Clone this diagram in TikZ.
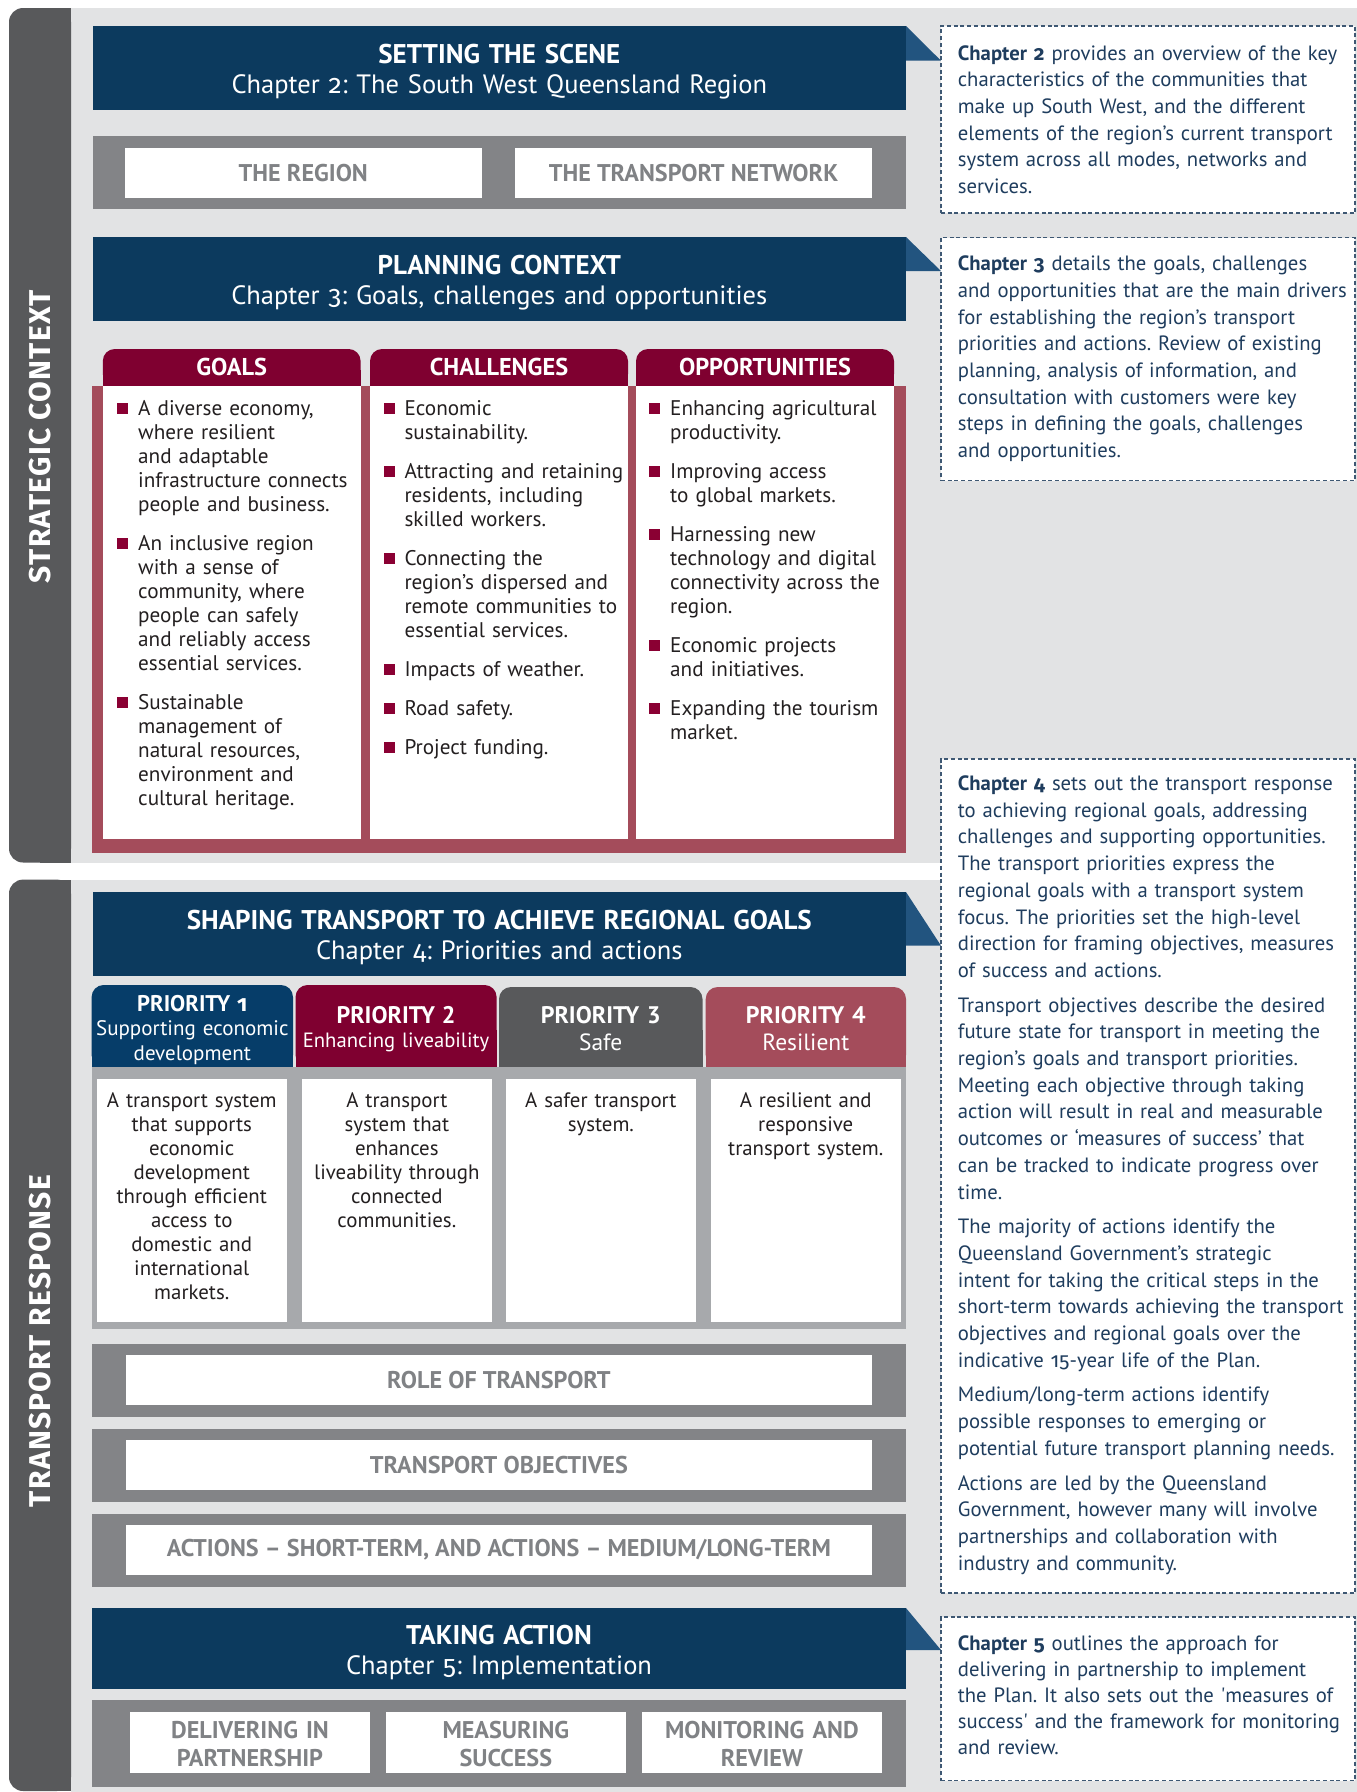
\documentclass[tikz,border=0pt]{standalone}
\usepackage{fontspec}
\setmainfont{PT Sans}
\newfontfamily\osf{Fira Sans}[Numbers=OldStyle]
\newfontfamily\sidefont{Fira Sans}[LetterSpace=4]
\usetikzlibrary{fit}

\definecolor{lightbg}{HTML}{E2E3E4}
\definecolor{sidegrey}{HTML}{58595B}
\definecolor{navy}{HTML}{0C3A5E}
\definecolor{triblue}{HTML}{22547F}
\definecolor{bandgrey}{HTML}{838487}
\definecolor{labelgrey}{HTML}{808285}
\definecolor{crimson}{HTML}{7F0030}
\definecolor{rose}{HTML}{A44C5B}
\definecolor{bulletred}{HTML}{8A0033}
\definecolor{pblue}{HTML}{063D69}
\definecolor{pframe}{HTML}{A7A9AC}
\definecolor{dashcol}{HTML}{3E5873}
\definecolor{rtextcol}{HTML}{1F3D5E}
\definecolor{bodytext}{HTML}{231F20}

\newlength\calibl
\newcommand\calibsize[3]{\settowidth\calibl{\fontsize{10pt}{12pt}\selectfont #3}\pgfmathsetmacro#1{10*#2/\calibl}}
\newcommand\fsz[2]{\fontsize{#1pt}{#2pt}\selectfont}
\newcommand\bitem[1]{\noindent\llap{\makebox[21pt][l]{\textcolor{bulletred}{\raisebox{1.5pt}{\rule{11pt}{11pt}}}}}#1}
\newcommand\itemgap{\par\vspace{15pt}}

\begin{document}
\frenchspacing
% ---------- calibrated font sizes ----------
\calibsize\rsz{344}{characteristics of the communities that}%
\calibsize\csz{208}{infrastructure connects}%
\calibsize\bsz{167}{A transport system}%
\calibsize\hbsz{615}{\bfseries SHAPING TRANSPORT TO ACHIEVE REGIONAL GOALS}%
\calibsize\hrsz{525}{Chapter {\osf 2}: The South West Queensland Region}%
\calibsize\lsz{664}{\bfseries ACTIONS -- SHORT-TERM, AND ACTIONS -- MEDIUM/LONG-TERM}%
\calibsize\tsz{172}{\bfseries OPPORTUNITIES}%
\calibsize\poneT{109}{\bfseries PRIORITY {\osf 1}}%
\calibsize\ptwoT{118}{\bfseries PRIORITY 2}%
\calibsize\poneS{191}{Supporting economic}%
\calibsize\ptwoS{185}{Enhancing liveability}%
\calibsize\pthreeS{86.8}{Resilient}%
\calibsize\ssz{293}{\sidefont\bfseries STRATEGIC CONTEXT}%
\begin{tikzpicture}[x=1pt,y=-1pt,
  bx/.style={inner sep=0pt, outer sep=0pt},
  dashbox/.style={bx, fill=white, draw=dashcol, line width=1.3pt, dash pattern=on 4pt off 2.7pt},
  hdrbox/.style={bx, fill=navy},
  hdrtext/.style={inner sep=0pt, anchor=base, text width=800pt, align=center, text=white, font=\fsz{\hrsz}{30}},
  bandbox/.style={bx, fill=bandgrey},
  whitebox/.style={bx, fill=white},
  lbl/.style={inner sep=0pt, text=labelgrey, font=\bfseries\fsz{\lsz}{28}, align=center},
  rtext/.style={inner sep=0pt, anchor=base west, text width=400pt, align=left, text=rtextcol, font=\fsz{\rsz}{26.7}},
  coltext/.style={inner sep=0pt, anchor=base west, text width=250pt, align=left, text=bodytext, font=\fsz{\csz}{24}},
  boxtext/.style={inner sep=0pt, anchor=base, text width=185pt, align=center, text=bodytext, font=\fsz{\bsz}{24}},
  tabtext/.style={inner sep=0pt, anchor=base, text width=200pt, align=center, text=white, font=\fsz{\ptwoS}{24.5}},
  sidetext/.style={inner sep=0pt, rotate=90, text=white, font=\sidefont\bfseries\fsz{\ssz}{\ssz}}
]
% ---------- background ----------
\fill[white] (0,0) rectangle (1357,1792);
\useasboundingbox (0,0) rectangle (1357,1792);
\fill[lightbg] (71,8) rectangle (1357,862.5);
\fill[lightbg] (71,879.6) rectangle (1357,1792);

% ---------- sidebars ----------
\node[fit={(9,8)(71,862.5)}, bx, fill=sidegrey, rounded corners=14pt] (sb1) {};
\fill[sidegrey] (40,8) rectangle (71,862.5);
\node[fit={(9,879.6)(71,1791)}, bx, fill=sidegrey, rounded corners=14pt] (sb2) {};
\fill[sidegrey] (40,879.6) rectangle (71,1791);
\node[sidetext] (sbt1) at (40.5,436.5) {STRATEGIC CONTEXT};
\node[sidetext] (sbt2) at (40.5,1341) {TRANSPORT RESPONSE};

% ---------- right column ----------
\node[fit={(941,26)(1355,213)}, dashbox] (c2) {};
\node[fit={(941,237.5)(1355,480.7)}, dashbox] (c3) {};
\node[fit={(941,759)(1355,1593)}, dashbox] (c4) {};
\node[fit={(941,1617)(1355,1780.7)}, dashbox] (c5) {};

\node[rtext] (c2t) at (957.7,60) {\textbf{Chapter {\osf 2}} provides an overview of the key\\
characteristics of the communities that\\
make up South West, and the different\\
elements of the region’s current transport\\
system across all modes, networks and\\
services.};

\node[rtext] (c3t) at (957.7,270.7) {\textbf{Chapter {\osf 3}} details the goals, challenges\\
and opportunities that are the main drivers\\
for establishing the region’s transport\\
priorities and actions. Review of existing\\
planning, analysis of information, and\\
consultation with customers were key\\
steps in defining the goals, challenges\\
and opportunities.};

\node[rtext] (c4t) at (957.7,790.5) {\textbf{Chapter {\osf 4}} sets out the transport response\\
to achieving regional goals, addressing\\
challenges and supporting opportunities.\\
The transport priorities express the\\
regional goals with a transport system\\
focus. The priorities set the high-level\\
direction for framing objectives, measures\\
of success and actions.\\[8pt]
Transport objectives describe the desired\\
future state for transport in meeting the\\
region’s goals and transport priorities.\\
Meeting each objective through taking\\
action will result in real and measurable\\
outcomes or ‘measures of success’ that\\
can be tracked to indicate progress over\\
time.\\[8pt]
The majority of actions identify the\\
Queensland Government’s strategic\\
intent for taking the critical steps in the\\
short-term towards achieving the transport\\
objectives and regional goals over the\\
indicative {\osf 15}-year life of the Plan.\\[8pt]
Medium/long-term actions identify\\
possible responses to emerging or\\
potential future transport planning needs.\\[8pt]
Actions are led by the Queensland\\
Government, however many will involve\\
partnerships and collaboration with\\
industry and community.};

\node[rtext, font=\fsz{\rsz}{26}] (c5t) at (957.7,1650) {\textbf{Chapter {\osf 5}} outlines the approach for\\
delivering in partnership to implement\\
the Plan. It also sets out the \textquotesingle measures of\\
success\textquotesingle\ and the framework for monitoring\\
and review.};

% ---------- Setting the scene ----------
\node[fit={(92.6,26)(906,110)}, hdrbox] (h1) {};
\coordinate (h1tip) at (941,60.7);
\fill[triblue] (h1.north east) -- (h1tip) -- (h1tip -| h1.east) -- cycle;
\node[hdrtext] (h1t) at (499.3,63.5) {{\bfseries\fsz{\hbsz}{30}SETTING THE SCENE}\\Chapter {\osf 2}: The South West Queensland Region};

\node[fit={(92.6,136)(906,209)}, bandbox] (b1) {};
\node[fit={(124.6,148)(482,198)}, whitebox] (b1a) {};
\node[fit={(515,148)(872,198)}, whitebox] (b1b) {};
\node[lbl] (b1at) at (b1a.center) {THE REGION};
\node[lbl] (b1bt) at (b1b.center) {THE TRANSPORT NETWORK};

% ---------- Planning context ----------
\node[fit={(92.6,237)(906,321)}, hdrbox] (h2) {};
\coordinate (h2tip) at (941,271);
\fill[triblue] (h2.north east) -- (h2tip) -- (h2tip -| h2.east) -- cycle;
\node[hdrtext] (h2t) at (499.3,274.5) {{\bfseries\fsz{\hbsz}{30}PLANNING CONTEXT}\\Chapter {\osf 3}: Goals, challenges and opportunities};

% tabs
\node[fit={(102.8,349)(360.6,386)}, bx, fill=crimson, rounded corners=12pt] (tg) {};
\fill[crimson] (102.8,370) rectangle (360.6,386);
\node[fit={(370,349)(628,386)}, bx, fill=crimson, rounded corners=12pt] (tc) {};
\fill[crimson] (370,370) rectangle (628,386);
\node[fit={(636,349)(894,386)}, bx, fill=crimson, rounded corners=12pt] (to) {};
\fill[crimson] (636,370) rectangle (894,386);
\node[tabtext, font=\bfseries\fsz{\tsz}{24}] (tgt) at (231.7,375.5) {GOALS};
\node[tabtext, font=\bfseries\fsz{\tsz}{24}] (tct) at (499,375.5) {CHALLENGES};
\node[tabtext, font=\bfseries\fsz{\tsz}{24}] (tot) at (765,375.5) {OPPORTUNITIES};

\node[fit={(91.6,386)(906,852.7)}, bx, fill=rose] (gframe) {};
\node[fit={(102.8,386)(360.6,839)}, whitebox] (gcol) {};
\node[fit={(370,386)(628,839)}, whitebox] (ccol) {};
\node[fit={(636,386)(894,839)}, whitebox] (ocol) {};

\node[coltext] (gtext) at (117,415) {\leftskip=21pt\relax
\bitem{A diverse economy,\\where resilient\\and adaptable\\infrastructure connects\\people and business.}\itemgap
\bitem{An inclusive region\\with a sense of\\community, where\\people can safely\\and reliably access\\essential services.}\itemgap
\bitem{Sustainable\\management of\\natural resources,\\environment and\\cultural heritage.}\par};

\node[coltext] (ctext) at (383.3,415) {\leftskip=21pt\relax
\bitem{Economic\\sustainability.}\itemgap
\bitem{Attracting and retaining\\residents, including\\skilled workers.}\itemgap
\bitem{Connecting the\\region’s dispersed and\\remote communities to\\essential services.}\itemgap
\bitem{Impacts of weather.}\itemgap
\bitem{Road safety.}\itemgap
\bitem{Project funding.}\par};

\node[coltext] (otext) at (649,415) {\leftskip=21pt\relax
\bitem{Enhancing agricultural\\productivity.}\itemgap
\bitem{Improving access\\to global markets.}\itemgap
\bitem{Harnessing new\\technology and digital\\connectivity across the\\region.}\itemgap
\bitem{Economic projects\\and initiatives.}\itemgap
\bitem{Expanding the tourism\\market.}\par};

% ---------- Shaping transport ----------
\node[fit={(92.6,892)(906,976)}, hdrbox] (h3) {};
\coordinate (h3tip) at (941,945.7);
\fill[triblue] (h3.north east) -- (h3tip) -- (h3tip -| h3.east) -- cycle;
\node[hdrtext] (h3t) at (499.3,929) {{\bfseries\fsz{\hbsz}{30}SHAPING TRANSPORT TO ACHIEVE REGIONAL GOALS}\\Chapter {\osf 4}: Priorities and actions};

% priority tabs
\node[fit={(91.6,985)(293,1067)}, bx, fill=pblue, rounded corners=12pt] (p1) {};
\fill[pblue] (91.6,1030) rectangle (293,1067);
\node[fit={(295.5,985)(496.6,1067)}, bx, fill=crimson, rounded corners=12pt] (p2) {};
\fill[crimson] (295.5,1030) rectangle (496.6,1067);
\node[fit={(499,987)(702.5,1067)}, bx, fill=sidegrey, rounded corners=12pt] (p3) {};
\fill[sidegrey] (499,1030) rectangle (702.5,1067);
\node[fit={(705.7,987)(906,1067)}, bx, fill=rose, rounded corners=12pt] (p4) {};
\fill[rose] (705.7,1030) rectangle (906,1067);

\node[tabtext, font=\fsz{\poneS}{24.5}] (p1t) at (192.3,1011) {{\bfseries\fsz{\poneT}{24.5}PRIORITY {\osf 1}}\\Supporting economic\\development};
\node[tabtext] (p2t) at (396,1023) {{\bfseries\fsz{\ptwoT}{24.5}PRIORITY 2}\\Enhancing liveability};
\node[tabtext, font=\fsz{\pthreeS}{27}] (p3t) at (600.75,1023) {{\bfseries\fsz{\ptwoT}{27}PRIORITY 3}\\Safe};
\node[tabtext, font=\fsz{\pthreeS}{27}] (p4t) at (805.85,1023) {{\bfseries\fsz{\ptwoT}{27}PRIORITY 4}\\Resilient};

\node[fit={(91.6,1067)(906,1329)}, bx, fill=pframe] (pfr) {};
\node[fit={(97,1079)(286.5,1321.7)}, whitebox] (pb1) {};
\node[fit={(301.8,1079)(491.9,1321.7)}, whitebox] (pb2) {};
\node[fit={(506,1079)(695.7,1321.7)}, whitebox] (pb3) {};
\node[fit={(711,1079)(900.5,1321.7)}, whitebox] (pb4) {};

\node[boxtext] (pb1t) at (191.75,1107) {A transport system\\that supports\\economic\\development\\through efficient\\access to\\domestic and\\international\\markets.};
\node[boxtext] (pb2t) at (396.85,1107) {A transport\\system that\\enhances\\liveability through\\connected\\communities.};
\node[boxtext] (pb3t) at (600.85,1107) {A safer transport\\system.};
\node[boxtext] (pb4t) at (805.75,1107) {A resilient and\\responsive\\transport system.};

% bands
\node[fit={(92,1344)(906,1416.7)}, bandbox] (r1) {};
\node[fit={(125.7,1355)(872,1405)}, whitebox] (r1a) {};
\node[lbl] (r1t) at (r1a.center) {ROLE OF TRANSPORT};
\node[fit={(92,1429)(906,1501.7)}, bandbox] (r2) {};
\node[fit={(125.7,1440)(872,1490)}, whitebox] (r2a) {};
\node[lbl] (r2t) at (r2a.center) {TRANSPORT OBJECTIVES};
\node[fit={(92,1514)(906,1586.7)}, bandbox] (r3) {};
\node[fit={(125.7,1525)(872,1575)}, whitebox] (r3a) {};
\node[lbl] (r3t) at (r3a.center) {ACTIONS -- SHORT-TERM, AND ACTIONS -- MEDIUM/LONG-TERM};

% ---------- Taking action ----------
\node[fit={(92,1608)(906,1688.7)}, hdrbox] (h4) {};
\coordinate (h4tip) at (941,1650);
\fill[triblue] (h4.north east) -- (h4tip) -- (h4tip -| h4.east) -- cycle;
\node[hdrtext] (h4t) at (499,1644) {{\bfseries\fsz{\hbsz}{30}TAKING ACTION}\\Chapter {\osf 5}: Implementation};

\node[fit={(92,1700)(906,1786.7)}, bandbox] (r4) {};
\node[fit={(130,1712)(370,1773)}, whitebox] (d1) {};
\node[fit={(386,1712)(625.7,1773)}, whitebox] (d2) {};
\node[fit={(641.7,1712)(882,1773)}, whitebox] (d3) {};
\node[lbl, anchor=base, text width=240pt] (d1t) at (250,1738) {DELIVERING IN\\PARTNERSHIP};
\node[lbl, anchor=base, text width=240pt] (d2t) at (505.85,1738) {MEASURING\\SUCCESS};
\node[lbl, anchor=base, text width=240pt] (d3t) at (761.85,1738) {MONITORING AND\\REVIEW};
\end{tikzpicture}
\end{document}
